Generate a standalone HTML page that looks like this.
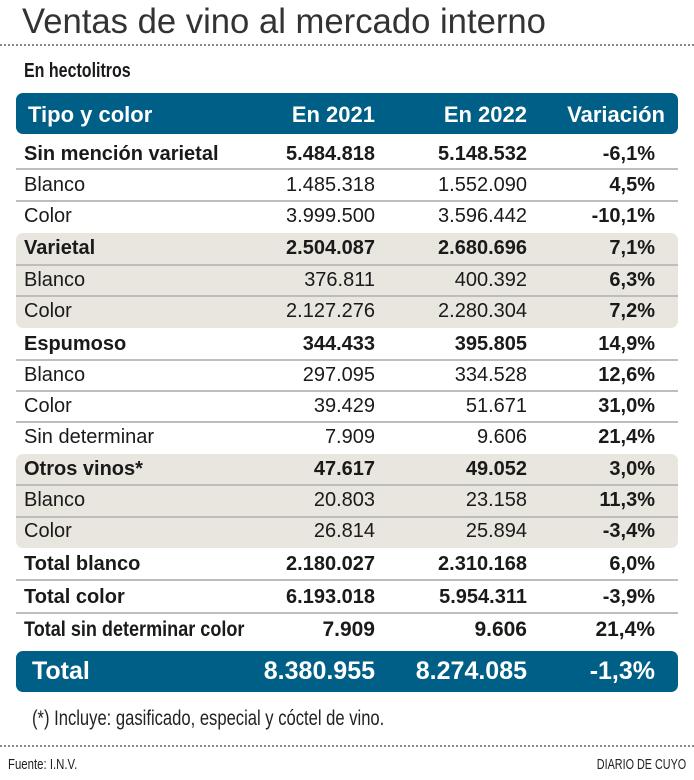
<!DOCTYPE html>
<html><head><meta charset="utf-8"><style>
body{margin:0;width:694px;height:780px;background:#fff;position:relative;overflow:hidden;font-family:"Liberation Sans",Arial,sans-serif;color:#1a1a1a}
.a{position:absolute;white-space:nowrap}
.dot{position:absolute;left:0;width:694px;border-top:2px dotted #888}
.hdr{position:absolute;left:16px;width:662px;background:#005f86;border-radius:7px}
.box{position:absolute;left:16px;width:662px;background:#e8e6df;border-radius:7px}
.ln{position:absolute;left:16px;width:662px;height:2px;background:#bdbdbd}
.row{position:absolute;left:0;width:694px;height:30px;font-size:20px;line-height:30px}
.row span{position:absolute}
.c0{left:24px}.c1{right:319px}.c2{right:167px}.c3{right:39px;font-weight:bold}
.b span{font-weight:bold}
.w{color:#fff;font-weight:bold}
</style></head><body>
<div class="a" style="left:22px;top:2px;font-size:35px;color:#333;transform:scaleX(0.99);transform-origin:left">Ventas de vino al mercado interno</div>
<div class="dot" style="top:44px"></div>
<div class="a" style="left:24px;top:60px;font-size:20px;font-weight:bold;transform:scaleX(0.8);transform-origin:left">En hectolitros</div>
<div class="hdr" style="top:93px;height:41px"></div>
<div class="row w" style="top:100px;font-size:22px"><span class="c0" style="left:28px">Tipo y color</span><span class="c1">En 2021</span><span class="c2">En 2022</span><span style="right:29px">Variación</span></div>
<div class="box" style="top:233px;height:95px"></div>
<div class="box" style="top:454px;height:94px"></div>
<div class="ln" style="top:168px"></div><div class="ln" style="top:200px"></div>
<div class="ln" style="top:264px"></div><div class="ln" style="top:295px"></div>
<div class="ln" style="top:359px"></div><div class="ln" style="top:390px"></div><div class="ln" style="top:421px"></div>
<div class="ln" style="top:484px"></div><div class="ln" style="top:516px"></div>
<div class="ln" style="top:579px"></div><div class="ln" style="top:612px"></div>
<div class="row b" style="top:139px"><span class="c0">Sin mención varietal</span><span class="c1">5.484.818</span><span class="c2">5.148.532</span><span class="c3">-6,1%</span></div>
<div class="row" style="top:170px"><span class="c0">Blanco</span><span class="c1">1.485.318</span><span class="c2">1.552.090</span><span class="c3">4,5%</span></div>
<div class="row" style="top:201px"><span class="c0">Color</span><span class="c1">3.999.500</span><span class="c2">3.596.442</span><span class="c3">-10,1%</span></div>
<div class="row b" style="top:233px"><span class="c0">Varietal</span><span class="c1">2.504.087</span><span class="c2">2.680.696</span><span class="c3">7,1%</span></div>
<div class="row" style="top:265px"><span class="c0">Blanco</span><span class="c1">376.811</span><span class="c2">400.392</span><span class="c3">6,3%</span></div>
<div class="row" style="top:296px"><span class="c0">Color</span><span class="c1">2.127.276</span><span class="c2">2.280.304</span><span class="c3">7,2%</span></div>
<div class="row b" style="top:329px"><span class="c0">Espumoso</span><span class="c1">344.433</span><span class="c2">395.805</span><span class="c3">14,9%</span></div>
<div class="row" style="top:360px"><span class="c0">Blanco</span><span class="c1">297.095</span><span class="c2">334.528</span><span class="c3">12,6%</span></div>
<div class="row" style="top:391px"><span class="c0">Color</span><span class="c1">39.429</span><span class="c2">51.671</span><span class="c3">31,0%</span></div>
<div class="row" style="top:422px"><span class="c0">Sin determinar</span><span class="c1">7.909</span><span class="c2">9.606</span><span class="c3">21,4%</span></div>
<div class="row b" style="top:454px"><span class="c0">Otros vinos*</span><span class="c1">47.617</span><span class="c2">49.052</span><span class="c3">3,0%</span></div>
<div class="row" style="top:485px"><span class="c0">Blanco</span><span class="c1">20.803</span><span class="c2">23.158</span><span class="c3">11,3%</span></div>
<div class="row" style="top:516px"><span class="c0">Color</span><span class="c1">26.814</span><span class="c2">25.894</span><span class="c3">-3,4%</span></div>
<div class="row b" style="top:549px"><span class="c0">Total blanco</span><span class="c1">2.180.027</span><span class="c2">2.310.168</span><span class="c3">6,0%</span></div>
<div class="row b" style="top:582px"><span class="c0">Total color</span><span class="c1">6.193.018</span><span class="c2">5.954.311</span><span class="c3">-3,9%</span></div>
<div class="row b" style="top:615px;font-size:21px"><span class="c0" style="transform:scaleX(0.86);transform-origin:left">Total sin determinar color</span><span class="c1">7.909</span><span class="c2">9.606</span><span class="c3">21,4%</span></div>
<div class="hdr" style="top:651px;height:41px"></div>
<div class="row w" style="top:656px;font-size:25px"><span class="c0" style="left:32px">Total</span><span class="c1">8.380.955</span><span class="c2">8.274.085</span><span style="right:39px">-1,3%</span></div>
<div class="a" style="left:32px;top:707px;font-size:21px;color:#222;transform:scaleX(0.79);transform-origin:left">(*) Incluye: gasificado, especial y cóctel de vino.</div>
<div class="dot" style="top:745px"></div>
<div class="a" style="left:8px;top:756px;font-size:15px;color:#222;transform:scaleX(0.76);transform-origin:left">Fuente: I.N.V.</div>
<div class="a" style="right:8px;top:756px;font-size:15px;color:#222;transform:scaleX(0.72);transform-origin:right">DIARIO DE CUYO</div>
</body></html>
